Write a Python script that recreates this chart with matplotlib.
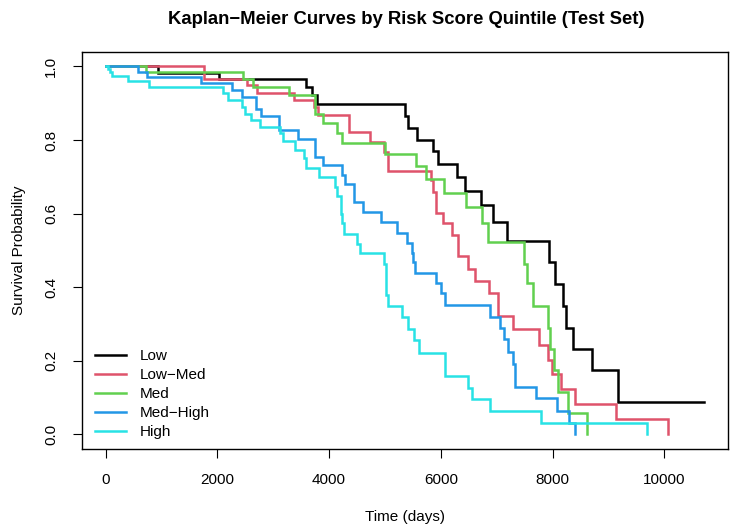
import matplotlib
matplotlib.use("Agg")
import matplotlib.pyplot as plt
from matplotlib.lines import Line2D

plt.rcParams['font.family'] = ['Liberation Sans', 'DejaVu Sans']

# Kaplan-Meier step curves (time in days, survival after the step)
groups = ["Low", "Low\u2212Med", "Med", "Med\u2212High", "High"]
colors = ["#000000", "#DF536B", "#61D04F", "#2297E6", "#28E2E5"]

low_t = [0, 942, 2029, 3581, 3700, 3778, 5359, 5410, 5574, 5866, 5956, 6285, 6433, 6714,
         6941, 7180, 7937, 8045, 8194, 8236, 8361, 8702, 9178, 10713]
low_s = [1.0, 0.983, 0.967, 0.945, 0.921, 0.897, 0.866, 0.832, 0.801, 0.769, 0.735, 0.699,
         0.661, 0.622, 0.577, 0.525, 0.467, 0.408, 0.348, 0.290, 0.233, 0.174, 0.087, 0.087]

lowmed_t = [0, 1760, 2524, 2703, 3377, 3735, 3800, 4350, 4733, 4985, 5060, 5819, 5866, 5914,
            6034, 6195, 6313, 6493, 6612, 6868, 7030, 7298, 7764, 7925, 7986, 8152, 8403,
            9131, 10073]
lowmed_s = [1.0, 0.967, 0.950, 0.928, 0.909, 0.890, 0.867, 0.822, 0.795, 0.768, 0.717, 0.690,
            0.658, 0.602, 0.573, 0.541, 0.484, 0.450, 0.417, 0.385, 0.321, 0.286, 0.244,
            0.202, 0.163, 0.122, 0.081, 0.041, 0.0]

med_t = [0, 722, 2453, 2632, 3288, 3748, 3896, 4136, 4237, 5001, 5556, 5735, 6063, 6451,
         6743, 6851, 7490, 7538, 7645, 7925, 7955, 8027, 8104, 8272, 8612]
med_s = [1.0, 0.986, 0.966, 0.945, 0.923, 0.871, 0.846, 0.820, 0.792, 0.763, 0.728, 0.695,
         0.657, 0.618, 0.575, 0.523, 0.464, 0.410, 0.348, 0.288, 0.233, 0.176, 0.116, 0.059,
         0.0]

medhigh_t = [0, 573, 740, 1700, 2262, 2435, 2691, 2780, 3103, 3438, 3748, 3896, 4226, 4285,
             4446, 4600, 4935, 5221, 5389, 5479, 5508, 5545, 5914, 5998, 6075, 6881, 7060,
             7137, 7198, 7298, 7329, 7699, 8075, 8296, 8403]
medhigh_s = [1.0, 0.985, 0.970, 0.954, 0.937, 0.918, 0.885, 0.865, 0.826, 0.803, 0.755,
             0.731, 0.706, 0.681, 0.631, 0.603, 0.576, 0.548, 0.521, 0.494, 0.467, 0.438,
             0.410, 0.383, 0.351, 0.319, 0.288, 0.258, 0.224, 0.190, 0.129, 0.098, 0.064,
             0.032, 0.0]

high_t = [0, 36, 77, 107, 405, 770, 2106, 2195, 2435, 2494, 2602, 2755, 3121, 3180, 3390,
          3560, 3581, 3815, 4100, 4136, 4213, 4237, 4272, 4494, 4553, 4988, 5013, 5049,
          5300, 5418, 5525, 5615, 6075, 6481, 6553, 6881, 7789, 9697]
high_s = [1.0, 0.993, 0.985, 0.975, 0.960, 0.944, 0.927, 0.908, 0.890, 0.870, 0.854, 0.835,
          0.818, 0.798, 0.772, 0.750, 0.725, 0.700, 0.673, 0.648, 0.600, 0.573, 0.545,
          0.518, 0.493, 0.464, 0.378, 0.348, 0.318, 0.287, 0.256, 0.222, 0.158, 0.127,
          0.095, 0.063, 0.031, 0.0]

curves = [(low_t, low_s), (lowmed_t, lowmed_s), (med_t, med_s),
          (medhigh_t, medhigh_s), (high_t, high_s)]

xticks = [0, 2000, 4000, 6000, 8000, 10000]
yticks = [0.0, 0.2, 0.4, 0.6, 0.8, 1.0]

W, H = 736, 532
fig = plt.figure(figsize=(W / 100, H / 100), dpi=100)
ax = fig.add_axes([81.7 / W, 1 - 449 / H, (728 - 81.7) / W, (449 - 51.7) / H])

for (t, s), c in zip(curves, colors):
    ax.step(t, s, where="post", color=c, lw=1.8, solid_joinstyle="miter")

ax.set_xlim(-428, 11141)
ax.set_ylim(-0.04, 1.04)
ax.set_xticks(xticks)
ax.set_xticklabels([str(v) for v in xticks])
ax.set_yticks(yticks)
ax.set_yticklabels(["%.1f" % v for v in yticks], rotation=90, va="center")
ax.tick_params(direction="out", length=6.5, width=0.8, labelsize=11, pad=10.5)
for sp in ax.spines.values():
    sp.set_linewidth(1.0)

ax.set_xlabel("Time (days)", fontsize=11, labelpad=17)
ax.set_ylabel("Survival Probability", fontsize=11, labelpad=13)
fig.text(406 / W, 1 - 19 / H, "Kaplan\u2212Meier Curves by Risk Score Quintile (Test Set)",
         ha="center", va="center", fontsize=13.3, fontweight="bold")

handles = [Line2D([], [], color=c, lw=1.8) for c in colors]
ax.legend(handles, groups, loc="lower left", bbox_to_anchor=(0.0206, 0.025),
          frameon=False, fontsize=11, handlelength=2.0, handletextpad=0.9,
          labelspacing=0.33, borderpad=0, borderaxespad=0)

fig.savefig("out.png", dpi=100)
